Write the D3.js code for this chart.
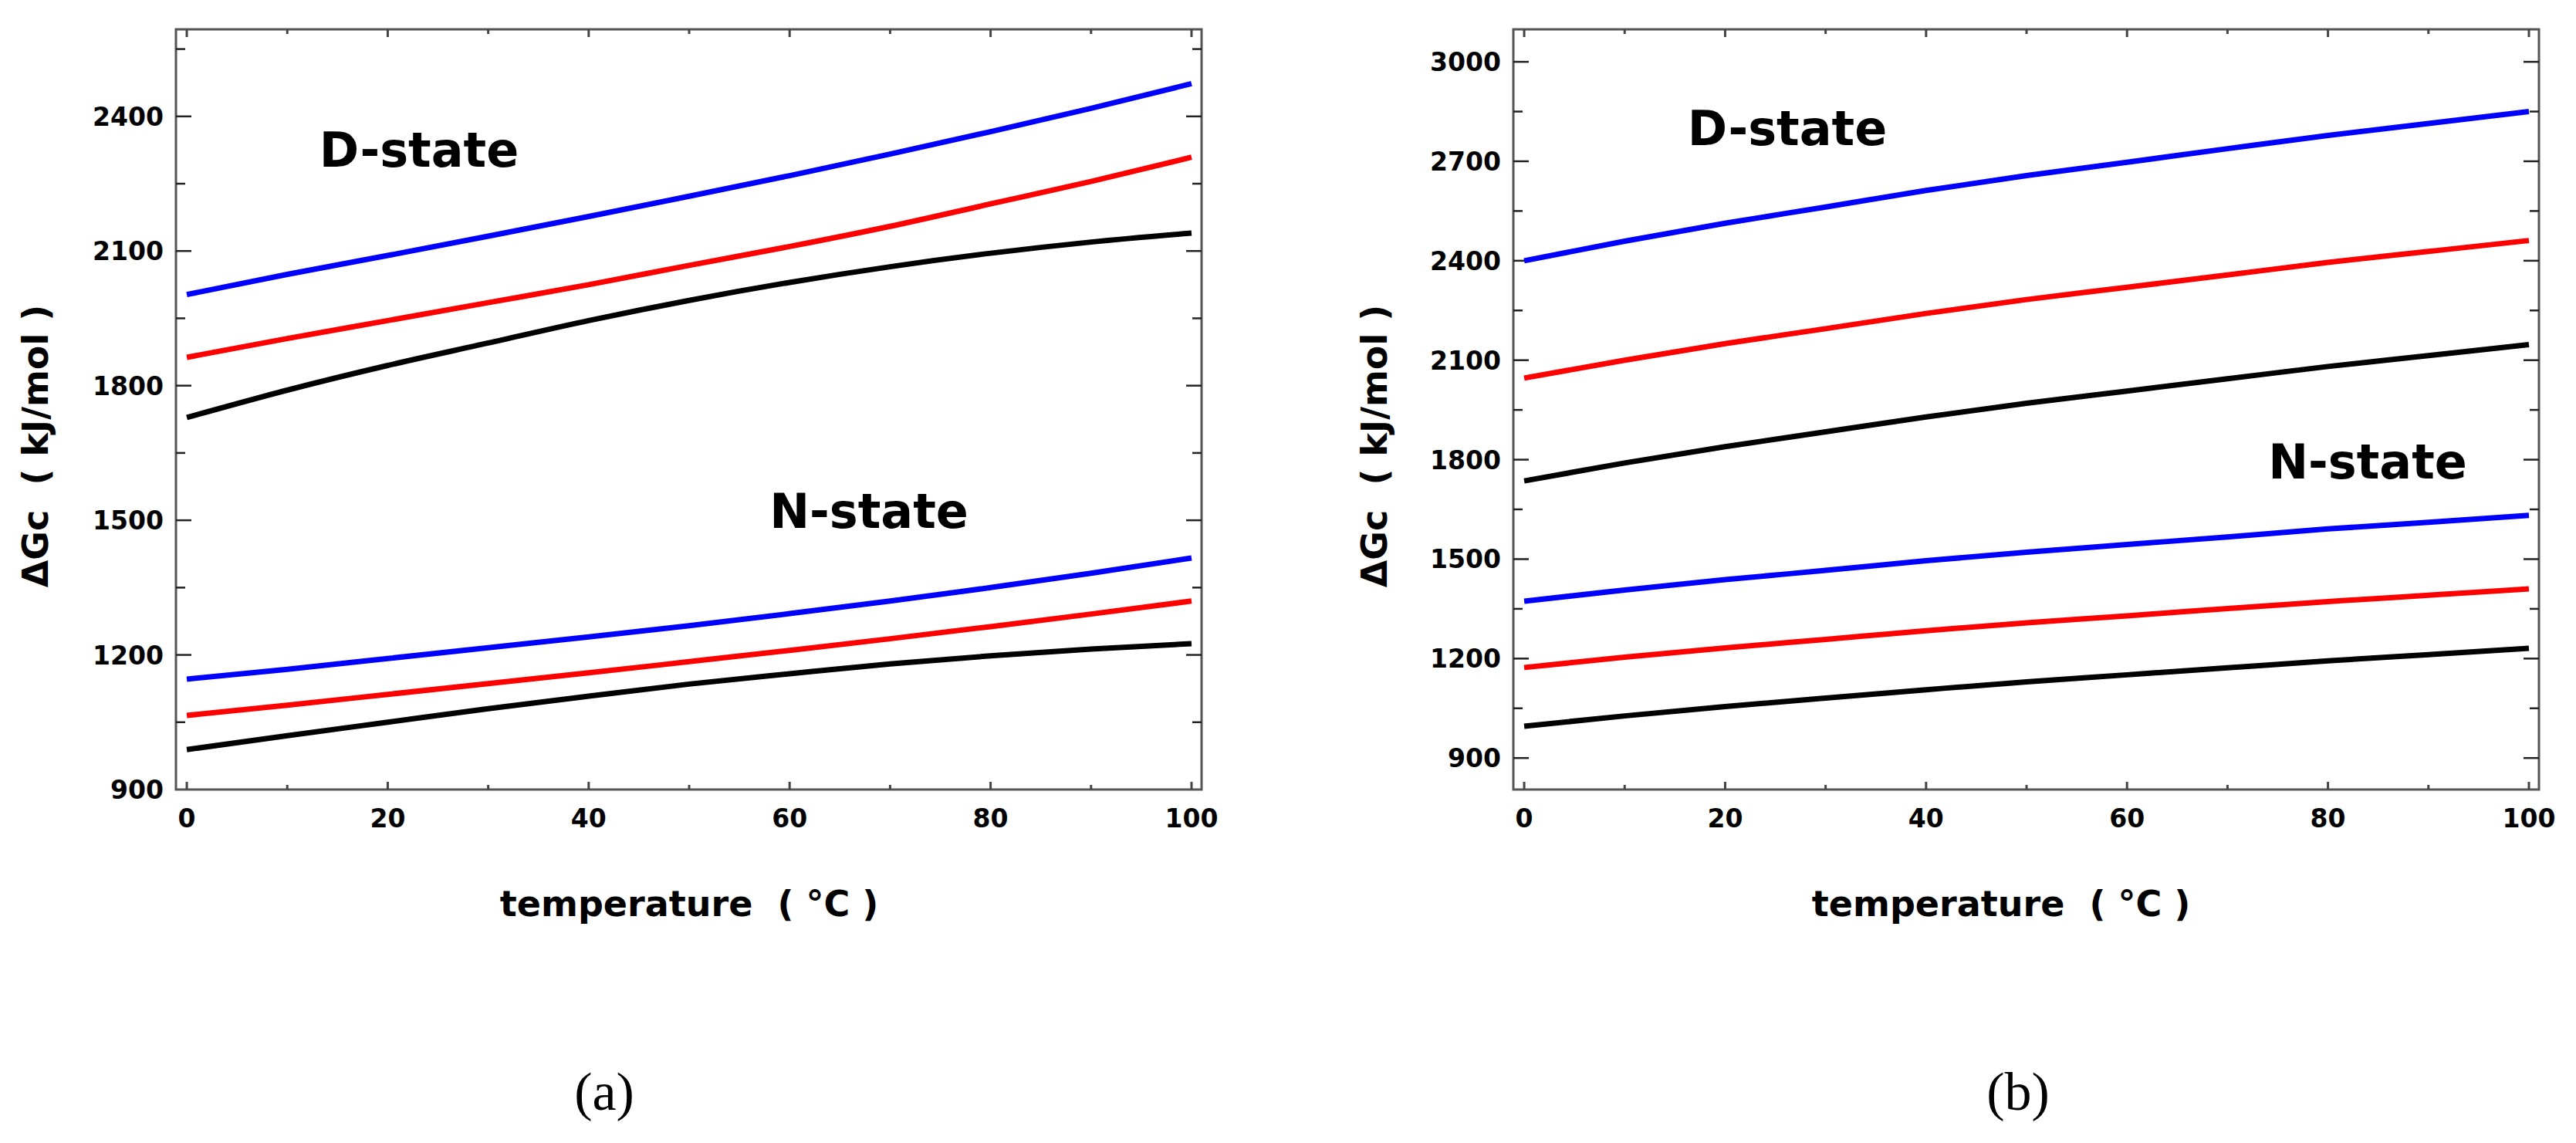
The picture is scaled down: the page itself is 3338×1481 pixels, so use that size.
<!DOCTYPE html>
<html><head><meta charset="utf-8">
<script src="https://cdn.jsdelivr.net/npm/d3@7"></script>
<style>body{margin:0;background:#fff}svg{display:block}</style>
</head><body>
<script>
const temps = [0,10,20,30,40,50,60,70,80,90,100];
// panel (a)
const aDBlue  = [2003,2048,2090,2133,2177,2222,2268,2316,2366,2418,2473];
const aDRed   = [1863,1905,1945,1985,2025,2068,2110,2155,2205,2255,2309];
const aDBlack = [1729,1790,1845,1895,1945,1990,2030,2065,2095,2120,2140];
const aNBlue  = [1146,1168,1192,1216,1240,1265,1292,1320,1350,1382,1416];
const aNRed   = [1065,1088,1112,1136,1160,1185,1210,1236,1263,1291,1320];
const aNBlack = [989,1020,1050,1080,1108,1135,1158,1180,1198,1213,1225];
// panel (b)
const bDBlue  = [2400,2459,2513,2562,2612,2657,2697,2738,2778,2814,2850];
const bDRed   = [2046,2100,2150,2195,2241,2283,2320,2357,2395,2428,2461];
const bDBlack = [1736,1790,1839,1884,1929,1970,2007,2044,2081,2114,2147];
const bNBlue  = [1373,1407,1438,1466,1495,1521,1544,1567,1591,1611,1632];
const bNRed   = [1173,1204,1232,1258,1284,1308,1329,1351,1372,1391,1410];
const bNBlack = [996,1027,1055,1081,1106,1130,1151,1172,1193,1212,1231];
const xTicks = [0,20,40,60,80,100];
const aYTicks = [900,1200,1500,1800,2100,2400];
const bYTicks = [900,1200,1500,1800,2100,2400,2700,3000];
const xTitle = "temperature  ( °C )";
const yTitle = "ΔGc  ( kJ/mol )";

const svg = d3.select("body").append("svg").attr("width",3338).attr("height",1481);
const font = "'DejaVu Sans', sans-serif";

function panel(o){
  const x = d3.scaleLinear().domain([-1.08,101]).range([o.x0,o.x1]);
  const y = d3.scaleLinear().domain(o.ydom).range([1023,38]);
  const g = svg.append("g");
  // frame
  g.append("rect").attr("x",o.x0).attr("y",38).attr("width",o.x1-o.x0).attr("height",985)
    .attr("fill","none").attr("stroke","#555").attr("stroke-width",3);
  // y ticks (major + minor) on both sides
  const minor = d3.range(o.ydom[0] - o.ydom[0]%150 + 150, o.ydom[1], 150);
  minor.forEach(v=>{
    const maj = o.yticks.includes(v);
    const L = maj?20:12;
    g.append("line").attr("x1",o.x0).attr("x2",o.x0+L).attr("y1",y(v)).attr("y2",y(v)).attr("stroke","#222").attr("stroke-width",2.5);
    g.append("line").attr("x1",o.x1).attr("x2",o.x1-L).attr("y1",y(v)).attr("y2",y(v)).attr("stroke","#222").attr("stroke-width",2.5);
  });
  d3.range(0,101,10).forEach(v=>{
    const L = v%20===0?10:6;
    g.append("line").attr("x1",x(v)).attr("x2",x(v)).attr("y1",1023).attr("y2",1023-L).attr("stroke","#444").attr("stroke-width",3);
    g.append("line").attr("x1",x(v)).attr("x2",x(v)).attr("y1",38).attr("y2",38+L).attr("stroke","#444").attr("stroke-width",3);
  });
  g.selectAll(".yl").data(o.yticks).enter().append("text")
    .attr("x",o.x0-16).attr("y",d=>y(d)+12).attr("text-anchor","end")
    .attr("font-family",font).attr("font-size",33).attr("font-weight","bold")
    .attr("textLength",d=>String(d).length*23).attr("lengthAdjust","spacingAndGlyphs").text(d=>d);
  g.selectAll(".xl").data(xTicks).enter().append("text")
    .attr("x",d=>x(d)).attr("y",1072).attr("text-anchor","middle")
    .attr("font-family",font).attr("font-size",33).attr("font-weight","bold")
    .attr("textLength",d=>String(d).length*23).attr("lengthAdjust","spacingAndGlyphs").text(d=>d);
  const line = d3.line().x((d,i)=>x(temps[i])).y(d=>y(d)).curve(d3.curveMonotoneX);
  o.series.forEach(s=>{
    g.append("path").attr("d",line(s.v)).attr("fill","none").attr("stroke",s.c).attr("stroke-width",7);
  });
  g.append("text").attr("x",o.xt).attr("y",1187).attr("text-anchor","middle")
    .attr("font-family",font).attr("font-size",46).attr("font-weight","bold").attr("xml:space","preserve").text(xTitle);
  g.append("text").attr("transform",`translate(${o.yx},578) rotate(-90)`).attr("text-anchor","middle")
    .attr("font-family",font).attr("font-size",46).attr("font-weight","bold").attr("xml:space","preserve").text(yTitle);
  o.labels.forEach(l=>g.append("text").attr("x",l[1]).attr("y",l[2]).attr("text-anchor","middle")
    .attr("font-family",font).attr("font-size",62).attr("font-weight","bold").text(l[0]));
  g.append("text").attr("x",o.cap[1]).attr("y",1438).attr("text-anchor","middle")
    .attr("font-family","'Liberation Serif', serif").attr("font-size",70).text(o.cap[0]);
}
panel({x0:228,x1:1557,ydom:[900,2594],yticks:aYTicks,xt:893,yx:62,cap:["(a)",783],
  labels:[["D-state",543,216],["N-state",1126,684]],
  series:[{v:aDBlue,c:"#0000ff"},{v:aDRed,c:"#ff0000"},{v:aDBlack,c:"#000"},{v:aNBlue,c:"#0000ff"},{v:aNRed,c:"#ff0000"},{v:aNBlack,c:"#000"}]});
panel({x0:1961,x1:3290,ydom:[805,3098],yticks:bYTicks,xt:2593,yx:1797,cap:["(b)",2615],
  labels:[["D-state",2316,188],["N-state",3068,620]],
  series:[{v:bDBlue,c:"#0000ff"},{v:bDRed,c:"#ff0000"},{v:bDBlack,c:"#000"},{v:bNBlue,c:"#0000ff"},{v:bNRed,c:"#ff0000"},{v:bNBlack,c:"#000"}]});
</script>
</body></html>
